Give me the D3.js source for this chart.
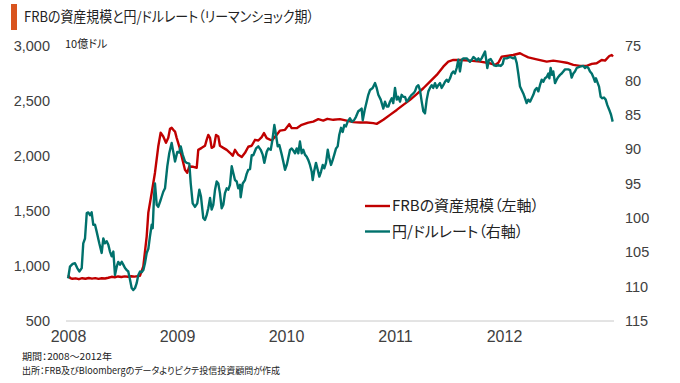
<!DOCTYPE html>
<html><head><meta charset="utf-8">
<script src="https://cdn.jsdelivr.net/npm/d3@7"></script>
<style>
html,body{margin:0;padding:0;background:#fff;}
svg text{font-feature-settings:"palt";}
</style></head>
<body><svg id="c" width="680" height="383"></svg>
<script>
const title = "FRBの資産規模と円/ドルレート（リーマンショック期）";
const unitLabel = "10億ドル";
const legendLabels = ["FRBの資産規模（左軸）", "円/ドルレート（右軸）"];
const notes = ["期間：2008～2012年", "出所：FRB及びBloombergのデータよりピクテ投信投資顧問が作成"];
const yearTicks = [2008, 2009, 2010, 2011, 2012];
const leftTicks = [500, 1000, 1500, 2000, 2500, 3000];
const rightTicks = [75, 80, 85, 90, 95, 100, 105, 110, 115];

// FRB total assets (billion USD), time as decimal year
const frbTime = [2008.00,2008.02,2008.04,2008.07,2008.10,2008.13,2008.16,2008.19,2008.22,2008.25,2008.28,2008.31,2008.34,2008.37,2008.40,2008.43,2008.46,2008.49,2008.52,2008.55,2008.58,2008.61,2008.64,2008.66,
2008.691,2008.722,2008.737,2008.768,2008.798,2008.828,2008.850,2008.874,2008.899,2008.920,2008.936,2008.951,2008.966,2008.982,2008.997,
2009.021,2009.043,2009.073,2009.094,2009.113,2009.150,2009.181,2009.195,2009.227,2009.257,2009.272,2009.287,2009.303,2009.318,2009.339,2009.358,2009.379,2009.394,2009.425,2009.456,2009.486,2009.511,2009.532,2009.562,2009.594,2009.624,2009.654,2009.685,2009.716,2009.746,2009.777,2009.798,2009.823,2009.869,2009.915,2009.945,2009.991,
2010.030,2010.052,2010.098,2010.144,2010.205,2010.250,2010.296,2010.342,2010.379,2010.434,2010.495,2010.557,2010.617,2010.679,2010.740,2010.801,2010.832,2010.893,2010.954,
2011.016,2011.076,2011.138,2011.199,2011.260,2011.321,2011.383,2011.443,2011.489,2011.535,2011.596,2011.688,2011.780,2011.872,2011.917,2011.948,2011.979,
2012.025,2012.085,2012.147,2012.177,2012.223,2012.300,2012.392,2012.452,2012.514,2012.575,2012.636,2012.697,2012.759,2012.805,2012.850,2012.896,2012.927,2012.966,2012.988,2013.000];
const frbValue = [915,890,884,888,880,889,884,891,885,890,883,889,886,893,902,898,905,900,906,902,907,903,908,910,
997,1270,1485,1666,1848,2086,2211,2177,2120,2165,2247,2256,2238,2222,2165,
2086,1996,1875,1848,1905,1902,1893,2056,2074,2093,2147,2192,2165,2074,2086,2192,2177,2093,2074,2056,2029,2002,2056,2011,1990,2029,2084,2093,2147,2141,2172,2208,2163,2141,2192,2231,2238,
2290,2253,2253,2283,2304,2313,2335,2322,2338,2329,2335,2322,2308,2304,2304,2299,2292,2329,2374,
2419,2465,2510,2562,2616,2676,2737,2812,2858,2873,2873,2867,2858,2843,2828,2848,2903,
2909,2918,2934,2918,2897,2879,2858,2867,2858,2848,2828,2819,2819,2837,2843,2873,2867,2909,2918,2905];

// Yen per dollar, time as decimal year
const yenTime = [2008.000,2008.003,2008.018,2008.043,2008.064,2008.085,2008.104,2008.126,2008.140,2008.156,2008.172,2008.186,2008.202,2008.217,2008.232,2008.248,2008.263,2008.287,2008.309,2008.324,2008.339,2008.355,2008.370,2008.385,2008.401,2008.416,2008.431,2008.447,2008.461,2008.477,2008.493,2008.507,2008.523,2008.539,2008.553,2008.569,2008.584,2008.599,2008.615,2008.630,2008.645,2008.661,2008.676,2008.691,2008.706,2008.722,2008.737,2008.752,2008.768,2008.777,2008.789,2008.798,2008.814,2008.828,2008.850,2008.874,2008.890,2008.911,2008.929,2008.951,2008.966,2008.982,
2009.003,2009.021,2009.034,2009.052,2009.073,2009.089,2009.113,2009.126,2009.144,2009.165,2009.186,2009.205,2009.220,2009.241,2009.257,2009.272,2009.287,2009.303,2009.318,2009.333,2009.349,2009.364,2009.379,2009.394,2009.410,2009.425,2009.440,2009.456,2009.471,2009.486,2009.502,2009.517,2009.532,2009.548,2009.562,2009.578,2009.584,2009.603,2009.624,2009.639,2009.654,2009.670,2009.685,2009.700,2009.725,2009.746,2009.768,2009.786,2009.801,2009.823,2009.838,2009.860,2009.875,2009.893,2009.908,2009.924,2009.939,2009.961,2009.975,2009.991,
2010.007,2010.021,2010.037,2010.052,2010.067,2010.083,2010.098,2010.113,2010.128,2010.144,2010.159,2010.174,2010.190,2010.205,2010.220,2010.236,2010.245,2010.257,2010.275,2010.291,2010.306,2010.321,2010.337,2010.351,2010.367,2010.383,2010.397,2010.413,2010.428,2010.443,2010.459,2010.474,2010.489,2010.505,2010.520,2010.535,2010.550,2010.566,2010.587,2010.603,2010.624,2010.642,2010.663,2010.679,2010.694,2010.704,2010.722,2010.740,2010.755,2010.771,2010.795,2010.817,2010.832,2010.847,2010.869,2010.893,2010.908,2010.924,2010.939,2010.954,2010.970,2010.984,
2011.000,2011.016,2011.030,2011.046,2011.061,2011.076,2011.092,2011.107,2011.122,2011.138,2011.153,2011.168,2011.183,2011.199,2011.214,2011.229,2011.245,2011.260,2011.275,2011.291,2011.306,2011.321,2011.337,2011.351,2011.367,2011.383,2011.397,2011.413,2011.428,2011.443,2011.459,2011.474,2011.489,2011.505,2011.520,2011.535,2011.550,2011.566,2011.581,2011.596,2011.612,2011.627,2011.658,2011.688,2011.704,2011.719,2011.734,2011.750,2011.765,2011.780,2011.795,2011.810,2011.826,2011.835,2011.847,2011.862,2011.878,2011.893,2011.908,2011.927,2011.948,2011.970,2011.988,
2012.000,2012.025,2012.055,2012.085,2012.101,2012.117,2012.131,2012.147,2012.162,2012.177,2012.193,2012.208,2012.223,2012.239,2012.254,2012.269,2012.284,2012.300,2012.315,2012.330,2012.346,2012.361,2012.376,2012.392,2012.407,2012.416,2012.428,2012.440,2012.452,2012.468,2012.483,2012.498,2012.514,2012.529,2012.544,2012.560,2012.590,2012.606,2012.621,2012.636,2012.651,2012.667,2012.697,2012.728,2012.743,2012.759,2012.774,2012.789,2012.805,2012.819,2012.835,2012.844,2012.860,2012.872,2012.887,2012.902,2012.917,2012.933,2012.948,2012.966,2012.982,2012.997];
const yenValue = [108.8,108.6,107.1,106.7,106.6,107.3,107.8,107.3,103.7,103.0,99.3,99.2,99.6,99.2,101.0,101.0,102.0,103.7,105.1,103.0,103.7,103.4,103.9,104.9,105.6,104.9,108.3,107.1,106.4,106.8,106.4,106.8,107.3,107.6,107.8,109.0,110.2,110.5,110.2,109.5,108.3,107.8,107.9,107.6,106.6,105.1,104.5,102.7,101.0,101.5,97.0,95.0,98.1,98.4,97.4,96.2,95.7,92.5,90.6,89.1,90.4,91.8,
90.4,90.5,89.6,90.8,91.8,92.0,92.1,95.0,97.9,98.4,97.9,95.9,96.9,100.0,100.3,99.6,98.6,97.1,98.8,98.1,95.9,94.7,95.0,96.4,98.6,98.1,96.4,95.7,95.9,95.2,92.5,93.5,94.5,94.7,95.7,95.2,97.0,95.0,94.5,93.6,93.0,92.9,90.9,90.9,89.9,89.6,90.1,90.8,92.0,90.4,89.9,90.1,88.7,86.5,87.9,89.6,89.4,90.8,91.8,93.0,
92.3,91.3,90.1,89.9,90.2,90.6,89.9,90.6,88.9,90.6,90.1,90.8,91.1,91.6,92.3,93.3,94.5,93.3,92.0,93.0,94.0,93.3,92.3,92.8,92.0,90.1,91.3,92.3,91.6,90.8,89.9,89.6,87.9,86.9,87.5,86.5,86.7,86.0,85.5,86.0,85.8,85.3,84.5,84.3,84.1,85.8,84.3,83.1,82.1,81.4,81.1,80.4,81.1,82.1,82.8,84.1,83.1,83.8,83.8,83.1,82.6,83.3,
81.1,82.8,82.4,83.1,82.1,82.4,82.4,83.1,82.8,82.4,82.1,81.9,81.6,80.9,80.7,81.4,83.1,84.5,84.8,82.8,81.6,81.1,80.7,81.1,80.4,81.1,80.7,80.4,81.1,80.7,80.2,79.9,80.2,79.7,79.0,78.7,79.0,78.2,77.0,78.7,77.0,76.8,76.8,77.3,77.0,76.6,76.8,77.1,76.8,77.1,76.8,76.3,75.8,76.8,78.2,77.0,76.9,77.3,77.8,77.9,77.8,77.9,77.6,
76.8,76.8,76.6,76.8,76.6,77.5,79.0,80.9,81.4,81.9,82.6,83.3,82.8,83.1,82.6,82.1,81.4,81.1,81.6,80.7,79.9,80.2,79.7,79.5,79.0,79.7,78.2,79.2,78.7,80.4,79.9,79.5,79.2,79.0,78.7,78.4,78.4,78.5,79.6,79.0,78.7,78.2,78.0,77.9,78.2,78.0,78.2,78.7,79.0,79.5,80.2,79.7,80.4,80.9,82.4,82.6,82.5,82.8,83.6,84.3,85.0,86.0];

const frbColor = "#C00000", yenColor = "#00716C", textColor = "#404040";
const svg = d3.select("#c");
const plot = {left: 68, right: 613, top: 46, bottom: 321};

const x = d3.scaleLinear().domain([2008, 2013]).range([plot.left, plot.right]);
const yL = d3.scaleLinear().domain([500, 3000]).range([plot.bottom, plot.top]);
const yR = d3.scaleLinear().domain([75, 115]).range([plot.top, plot.bottom]);

// title
svg.append("rect").attr("x", 11).attr("y", 4).attr("width", 6).attr("height", 26).attr("fill", "#D9541E");
svg.append("text").attr("x", 24).attr("y", 18.5).attr("dominant-baseline", "middle")
  .attr("font-family", "'Noto Sans CJK JP', sans-serif").attr("font-size", 14.5)
  .attr("textLength", 290).attr("lengthAdjust", "spacingAndGlyphs").attr("fill", "#222").text(title);

// baseline
svg.append("line").attr("x1", 66).attr("x2", 614).attr("y1", plot.bottom).attr("y2", plot.bottom)
  .attr("stroke", "#c8c8c8").attr("stroke-width", 1);

// left axis
const gL = svg.append("g").attr("transform", `translate(50,0)`)
  .call(d3.axisLeft(yL).tickValues(leftTicks).tickFormat(d3.format(",")).tickSize(0).tickPadding(0));
gL.select(".domain").remove();
gL.selectAll("text").attr("font-family", "'Liberation Sans', Arial, sans-serif").attr("font-size", 14.5).attr("fill", textColor);

// right axis
const gR = svg.append("g").attr("transform", `translate(625,0)`)
  .call(d3.axisRight(yR).tickValues(rightTicks).tickSize(0).tickPadding(0));
gR.select(".domain").remove();
gR.selectAll("text").attr("font-family", "'Liberation Sans', Arial, sans-serif").attr("font-size", 14.5).attr("fill", textColor);

// x axis
const gX = svg.append("g").attr("transform", `translate(0,${plot.bottom + 10})`)
  .call(d3.axisBottom(x).tickValues(yearTicks).tickFormat(d3.format("d")).tickSize(0).tickPadding(0));
gX.select(".domain").remove();
gX.selectAll("text").attr("font-family", "'Liberation Sans Narrow', 'Liberation Sans', sans-serif").attr("font-size", 16).attr("fill", textColor);

svg.selectAll(".tick").attr("font-size", null);

// unit label
svg.append("text").attr("x", 65).attr("y", 45).attr("dominant-baseline", "middle")
  .attr("font-family", "'Noto Sans CJK JP', sans-serif").attr("font-size", 11).attr("fill", "#222").text(unitLabel);

// lines
const frbData = frbTime.map((t, i) => [t, frbValue[i]]);
const yenData = yenTime.map((t, i) => [t, yenValue[i]]);
svg.append("path").datum(frbData).attr("fill", "none").attr("stroke", frbColor).attr("stroke-width", 2.4)
  .attr("stroke-linejoin", "round").attr("d", d3.line().x(d => x(d[0])).y(d => yL(d[1])));
svg.append("path").datum(yenData).attr("fill", "none").attr("stroke", yenColor).attr("stroke-width", 2.4)
  .attr("stroke-linejoin", "round").attr("d", d3.line().x(d => x(d[0])).y(d => yR(d[1])));

// legend
const legend = svg.append("g");
[frbColor, yenColor].forEach((c, i) => {
  const yy = 206 + i * 25.5;
  legend.append("line").attr("x1", 365).attr("x2", 390).attr("y1", yy).attr("y2", yy).attr("stroke", c).attr("stroke-width", 2.4);
  legend.append("text").attr("x", 392).attr("y", yy + 1).attr("dominant-baseline", "middle")
    .attr("font-family", "'Noto Sans CJK JP', sans-serif").attr("font-size", 15).attr("fill", "#222").text(legendLabels[i]);
});

// notes
const noteLen = [90, 258];
notes.forEach((n, i) => {
  svg.append("text").attr("x", 22).attr("y", 357 + i * 14).attr("dominant-baseline", "middle")
    .attr("font-family", "'Noto Sans CJK JP', sans-serif").attr("font-size", 9.5)
    .attr("textLength", noteLen[i]).attr("lengthAdjust", "spacingAndGlyphs").attr("fill", "#222").text(n);
});
</script></body></html>
